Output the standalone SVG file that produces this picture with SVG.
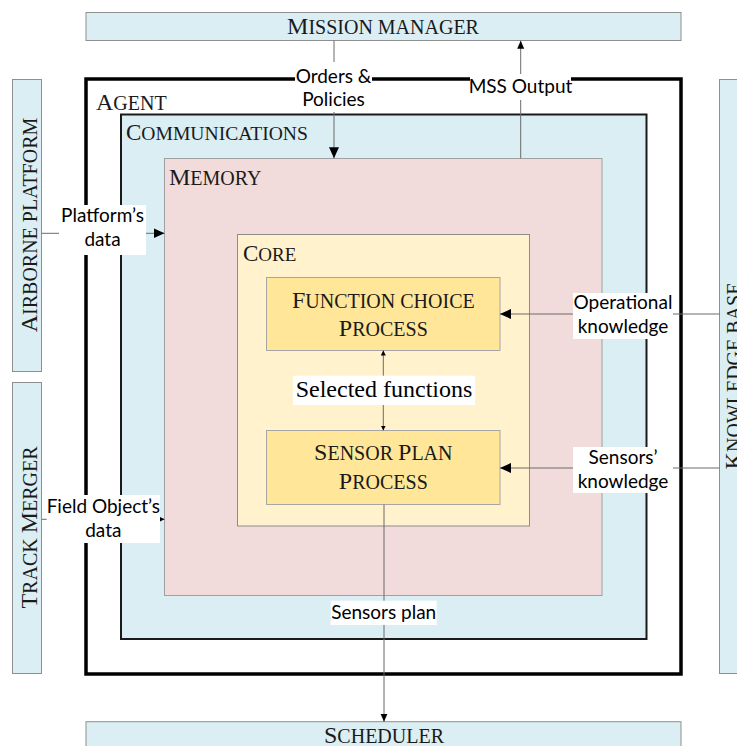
<svg xmlns="http://www.w3.org/2000/svg" width="737" height="746" viewBox="0 0 737 746">
<defs>
<style>
.blue{fill:#daeef3;stroke:#8f8f8f;stroke-width:1}
.agent{fill:#ffffff;stroke:#000;stroke-width:3.5}
.comm{fill:#daeef3;stroke:#1a1a1a;stroke-width:2}
.mem{fill:#f2dcdb;stroke:#a0a0a0;stroke-width:1}
.core{fill:#fff2cc;stroke:#8c8c8c;stroke-width:1}
.proc{fill:#ffe699;stroke:#a6a6a6;stroke-width:1}
.h{font-family:"Liberation Serif","Times New Roman",serif;fill:#1a1a1a}
.b{font-size:24px}
.s{font-size:20px}
.lbl{font-family:Lato,"Liberation Sans",sans-serif;font-size:19px;fill:#000;text-anchor:middle}
.sel{font-family:"Liberation Serif",serif;font-size:24px;fill:#000;text-anchor:middle}
.bg{fill:#fff}
.ln{fill:none;stroke:#6b6b6b;stroke-width:1}
</style>
<marker id="aL" markerUnits="userSpaceOnUse" markerWidth="12" markerHeight="12" refX="11" refY="5" orient="auto"><path d="M0,0 L11,5 L0,10 Z" fill="#000"/></marker>
<marker id="aM" markerUnits="userSpaceOnUse" markerWidth="10" markerHeight="10" refX="8" refY="3.5" orient="auto"><path d="M0,0 L8,3.5 L0,7 Z" fill="#000"/></marker>
<marker id="aS" markerUnits="userSpaceOnUse" markerWidth="8" markerHeight="8" refX="5" refY="2.5" orient="auto-start-reverse"><path d="M0,0 L5,2.5 L0,5 Z" fill="#000"/></marker>
</defs>

<g id="mission-manager"><rect class="blue" x="86" y="12.5" width="595" height="28"/>
<text class="h" x="383" y="33.5" text-anchor="middle"><tspan class="b">M</tspan><tspan class="s">ISSION MANAGER</tspan></text></g>

<g id="airborne-platform"><rect class="blue" x="12.5" y="79.5" width="29" height="292"/>
<text class="h" transform="translate(36.5,225) rotate(-90)" text-anchor="middle"><tspan class="b">A</tspan><tspan class="s">IRBORNE PLATFORM</tspan></text></g>

<g id="track-merger"><rect class="blue" x="12.5" y="382.5" width="29" height="291"/>
<text class="h" transform="translate(36.5,527.5) rotate(-90)" text-anchor="middle"><tspan class="b">T</tspan><tspan class="s">RACK </tspan><tspan class="b">M</tspan><tspan class="s">ERGER</tspan></text></g>

<g id="knowledge-base"><rect class="blue" x="719.5" y="79.5" width="29" height="594"/>
<text class="h" transform="translate(741,376) rotate(-90)" text-anchor="middle"><tspan class="b">K</tspan><tspan class="s">NOWLEDGE BASE</tspan></text></g>

<g id="scheduler"><rect class="blue" x="86" y="721.7" width="595" height="40"/>
<text class="h" x="384" y="742.7" text-anchor="middle"><tspan class="b">S</tspan><tspan class="s">CHEDULER</tspan></text></g>

<g id="agent"><rect class="agent" x="86" y="79" width="595" height="595"/>
<text class="h" x="96" y="110"><tspan class="b">A</tspan><tspan class="s">GENT</tspan></text></g>

<g id="communications"><rect class="comm" x="121" y="114.5" width="525.5" height="524.5"/>
<text class="h" x="126" y="140"><tspan style="font-size:23px">C</tspan><tspan style="font-size:19.6px">OMMUNICATIONS</tspan></text></g>

<g id="memory"><rect class="mem" x="164.5" y="158.5" width="437.5" height="437"/>
<text class="h" x="169" y="185"><tspan class="b">M</tspan><tspan class="s">EMORY</tspan></text></g>

<g id="core"><rect class="core" x="237.5" y="234.5" width="292" height="291.5"/>
<text class="h" x="243" y="260.7"><tspan style="font-size:23px">C</tspan><tspan style="font-size:19px">ORE</tspan></text></g>

<g id="function-choice-process"><rect class="proc" x="266.5" y="277.5" width="233.5" height="73"/>
<text class="h" x="383.3" y="308" text-anchor="middle"><tspan class="b">F</tspan><tspan class="s">UNCTION CHOICE</tspan></text>
<text class="h" x="383.3" y="336" text-anchor="middle"><tspan class="b">P</tspan><tspan class="s">ROCESS</tspan></text></g>

<g id="sensor-plan-process"><rect class="proc" x="266.5" y="430.5" width="233.5" height="74"/>
<text class="h" x="383.3" y="460" text-anchor="middle"><tspan class="b">S</tspan><tspan class="s">ENSOR </tspan><tspan class="b">P</tspan><tspan class="s">LAN</tspan></text>
<text class="h" x="383.3" y="489" text-anchor="middle"><tspan class="b">P</tspan><tspan class="s">ROCESS</tspan></text></g>

<g id="connectors">
<line class="ln" x1="334" y1="40.7" x2="334" y2="158.3" marker-end="url(#aL)"/>
<line class="ln" x1="520.7" y1="158.3" x2="520.7" y2="40.7" marker-end="url(#aM)"/>
<line class="ln" x1="41.7" y1="233.3" x2="164.5" y2="233.3" marker-end="url(#aL)"/>
<line class="ln" x1="41.7" y1="519.3" x2="164.5" y2="519.3" marker-end="url(#aS)"/>
<line class="ln" x1="719.5" y1="314" x2="500" y2="314" marker-end="url(#aL)"/>
<line class="ln" x1="719.5" y1="468" x2="500" y2="468" marker-end="url(#aL)"/>
<line class="ln" x1="383.3" y1="350.5" x2="383.3" y2="430.5" marker-start="url(#aS)" marker-end="url(#aS)"/>
<line class="ln" x1="384" y1="504.5" x2="384" y2="721.7" marker-end="url(#aM)"/>

<rect class="bg" x="295" y="62" width="77" height="50"/>
<text class="lbl" x="333.5" y="83">Orders &amp;</text>
<text class="lbl" x="333.5" y="106">Policies</text>

<rect class="bg" x="470" y="74" width="101" height="26"/>
<text class="lbl" x="520.5" y="93">MSS Output</text>

<rect class="bg" x="59" y="205" width="87" height="50"/>
<text class="lbl" x="102.5" y="222">Platform’s</text>
<text class="lbl" x="102.5" y="246">data</text>

<rect class="bg" x="46.7" y="495" width="113.3" height="48"/>
<text class="lbl" x="103.3" y="512.7">Field Object’s</text>
<text class="lbl" x="103.3" y="536.7">data</text>

<rect class="bg" x="573" y="293" width="100" height="46"/>
<text class="lbl" x="623" y="309.3">Operational</text>
<text class="lbl" x="623" y="332.7">knowledge</text>

<rect class="bg" x="573" y="447" width="100" height="46"/>
<text class="lbl" x="623" y="464">Sensors’</text>
<text class="lbl" x="623" y="487.5">knowledge</text>

<rect class="bg" x="293" y="375.7" width="182" height="29.3"/>
<text class="sel" x="384" y="397">Selected functions</text>

<rect class="bg" x="330.7" y="600.7" width="106" height="24.3"/>
<text class="lbl" x="383.7" y="619.3">Sensors plan</text>
</g>
</svg>
